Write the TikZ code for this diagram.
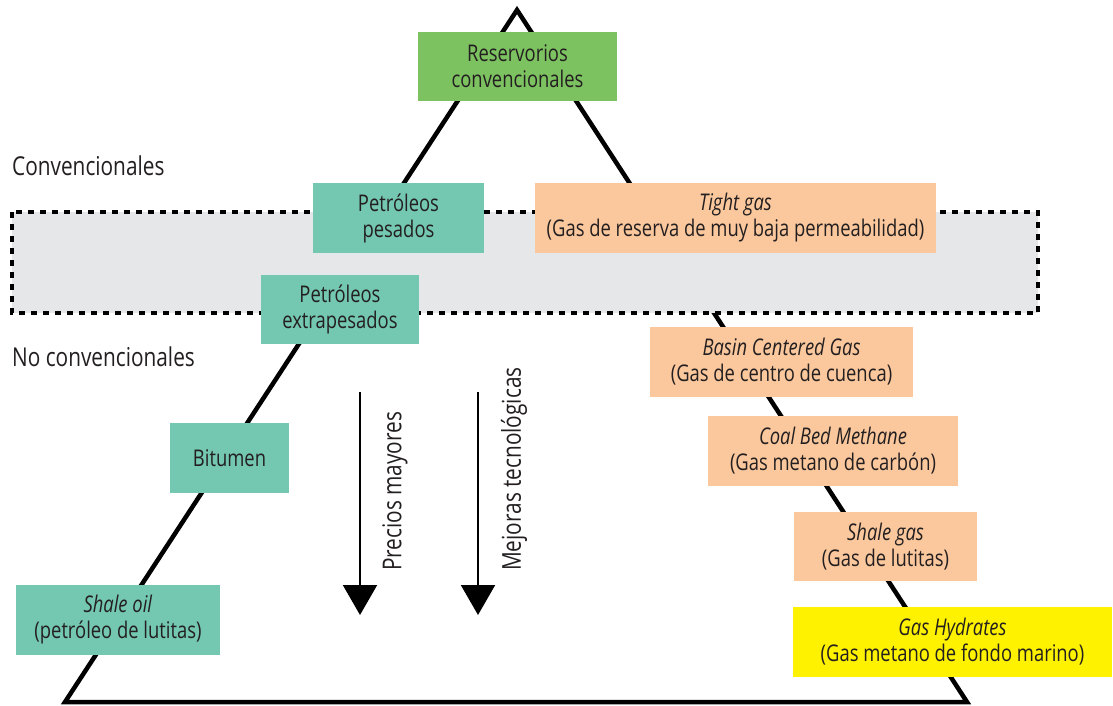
\documentclass[tikz,border=0pt]{standalone}
\usepackage{fontspec}
\setmainfont{Open Sans}[FakeStretch=0.8]
\usetikzlibrary{arrows.meta}
\definecolor{txt}{HTML}{231F20}
\definecolor{gbox}{HTML}{7DC261}
\definecolor{tbox}{HTML}{74C7B0}
\definecolor{pbox}{HTML}{FBC89D}
\definecolor{ybox}{HTML}{FFF200}
\definecolor{band}{HTML}{E6E7E8}
\begin{document}
\begin{tikzpicture}[x=1pt,y=-1pt,
  lbl/.style={font=\fontsize{23}{26}\selectfont, text=txt},
  biglbl/.style={font=\fontsize{26}{28}\selectfont, text=txt, inner sep=0pt},
  box/.style={lbl, inner sep=0pt, align=center, minimum width=#1},
  tri/.style={line width=4.5pt, draw=black, miter limit=20},
  dotband/.style={fill=band, draw=black, line width=4pt, dash pattern=on 6pt off 6pt},
  trend/.style={line width=2pt, -{Triangle[width=34pt,length=30pt]}}]
\useasboundingbox (0,0) rectangle (1113,706);
% triangle
\coordinate (apex) at (517,10);
\coordinate (bl) at (65,702);
\coordinate (br) at (967,702);
\draw[tri] (apex) -- (br) -- (bl) -- cycle;
% band
\draw[dotband] (12,212) rectangle (1038,313);
% side labels
\node[biglbl, anchor=west] (conv) at (12,166) {Convencionales};
\node[biglbl, anchor=west] (noconv) at (12,357) {No convencionales};
% boxes
\node[box=199pt, minimum height=69pt, fill=gbox] (res) at (517.5,66.5) {Reservorios\\convencionales};
\node[box=171pt, minimum height=70pt, fill=tbox] (pes) at (398.5,218) {Petróleos\\pesados};
\node[box=158pt, minimum height=69pt, fill=tbox] (ext) at (340,309.5) {Petróleos\\extrapesados};
\node[box=119pt, minimum height=70pt, fill=tbox] (bit) at (229.5,458) {Bitumen};
\node[box=204pt, minimum height=70pt, fill=tbox] (soil) at (118,620) {\textit{Shale oil}\\(petróleo de lutitas)};
\node[box=401pt, minimum height=70pt, fill=pbox] (tight) at (735.5,218) {\textit{Tight gas}\\(Gas de reserva de muy baja permeabilidad)};
\node[box=263pt, minimum height=70pt, fill=pbox] (basin) at (781.5,362) {\textit{Basin Centered Gas}\\(Gas de centro de cuenca)};
\node[box=250pt, minimum height=70pt, fill=pbox] (coal) at (833,451) {\textit{Coal Bed Methane}\\(Gas metano de carbón)};
\node[box=183pt, minimum height=69pt, fill=pbox] (sgas) at (885.5,546.5) {\textit{Shale gas}\\(Gas de lutitas)};
\node[box=319pt, minimum height=70pt, fill=ybox] (hyd) at (952.5,642) {\textit{Gas Hydrates}\\(Gas metano de fondo marino)};
% arrows
\coordinate (a1s) at (360,392);
\coordinate (a1e) at (360,615);
\coordinate (a2s) at (478,392);
\coordinate (a2e) at (478,615);
\draw[trend] (a1s) -- (a1e);
\draw[trend] (a2s) -- (a2e);
\node[biglbl, rotate=90, anchor=west] (precios) at (395,571) {Precios mayores};
\node[biglbl, rotate=90, anchor=west] (mejoras) at (514,571) {Mejoras tecnológicas};
\end{tikzpicture}
\end{document}
